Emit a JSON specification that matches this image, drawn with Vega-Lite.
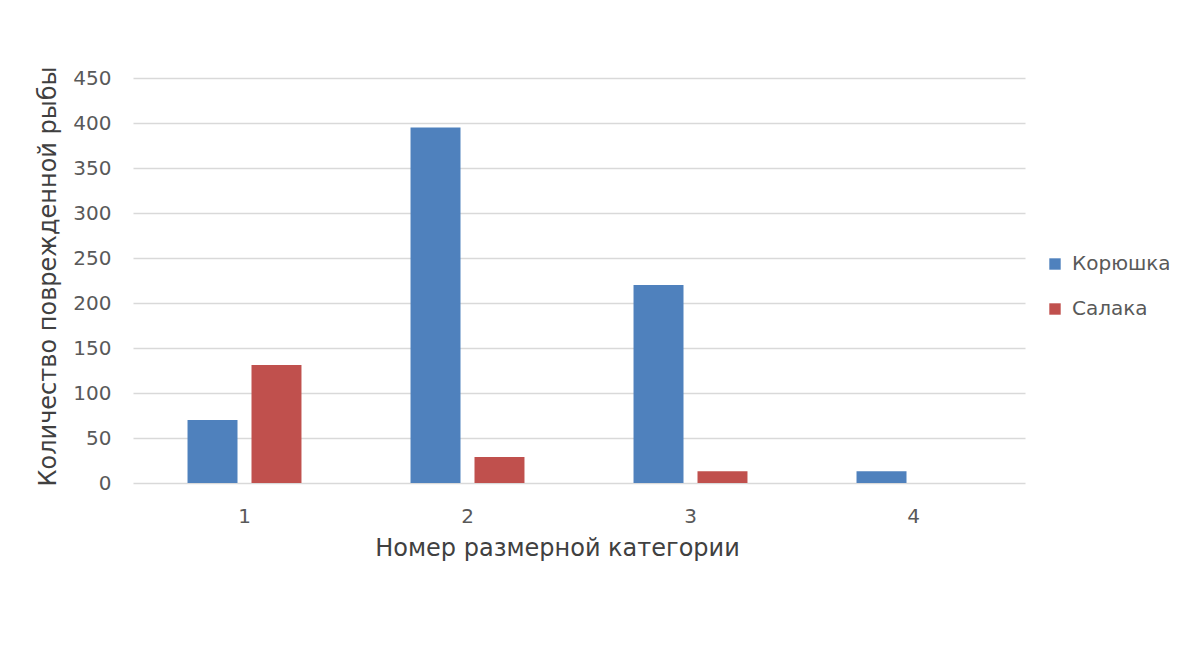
{
  "$schema": "https://vega.github.io/schema/vega-lite/v6.json",
  "width": 892,
  "height": 405,
  "autosize": {"type": "none"},
  "padding": {"left": 133, "top": 78, "right": 167, "bottom": 177},
  "background": "white",
  "data": {
    "values": [
      {"cat": "1", "species": "Корюшка", "value": 70},
      {"cat": "1", "species": "Салака", "value": 131},
      {"cat": "2", "species": "Корюшка", "value": 395},
      {"cat": "2", "species": "Салака", "value": 29},
      {"cat": "3", "species": "Корюшка", "value": 220},
      {"cat": "3", "species": "Салака", "value": 13},
      {"cat": "4", "species": "Корюшка", "value": 13},
      {"cat": "4", "species": "Салака", "value": 0}
    ]
  },
  "mark": {"type": "bar"},
  "encoding": {
    "x": {
      "field": "cat", "type": "nominal",
      "scale": {"paddingInner": 0.489, "paddingOuter": 0.2445},
      "axis": {
        "title": "Номер размерной категории",
        "labelAngle": 0, "ticks": false, "domain": false,
        "labelPadding": 23, "titlePadding": 10,
        "titleX": 424, "titleAlign": "center",
        "labelFontSize": 20, "titleFontSize": 24,
        "labelColor": "#595959", "titleColor": "#404040",
        "titleFontWeight": "normal"
      }
    },
    "xOffset": {
      "field": "species", "type": "nominal",
      "scale": {"paddingInner": 0.21875, "paddingOuter": 0}
    },
    "y": {
      "field": "value", "type": "quantitative",
      "scale": {"domain": [0, 450], "nice": false},
      "axis": {
        "title": "Количество поврежденной рыбы",
        "values": [0, 50, 100, 150, 200, 250, 300, 350, 400, 450],
        "ticks": false, "domain": false,
        "labelPadding": 22, "titlePadding": 12,
        "titleY": 198,
        "labelFontSize": 20, "titleFontSize": 24,
        "labelColor": "#595959", "titleColor": "#404040",
        "titleFontWeight": "normal",
        "gridColor": "#D9D9D9", "gridWidth": 1.5
      }
    },
    "color": {
      "field": "species", "type": "nominal",
      "scale": {"domain": ["Корюшка", "Салака"], "range": ["#4F81BD", "#C0504D"]},
      "legend": {
        "title": null, "orient": "none", "legendX": 912, "legendY": 176,
        "symbolType": "square", "symbolSize": 130, "symbolStrokeWidth": 0,
        "labelFontSize": 20, "labelColor": "#595959", "rowPadding": 25,
        "labelOffset": 7
      }
    }
  },
  "config": {
    "font": "DejaVu Sans",
    "view": {"stroke": null}
  }
}
